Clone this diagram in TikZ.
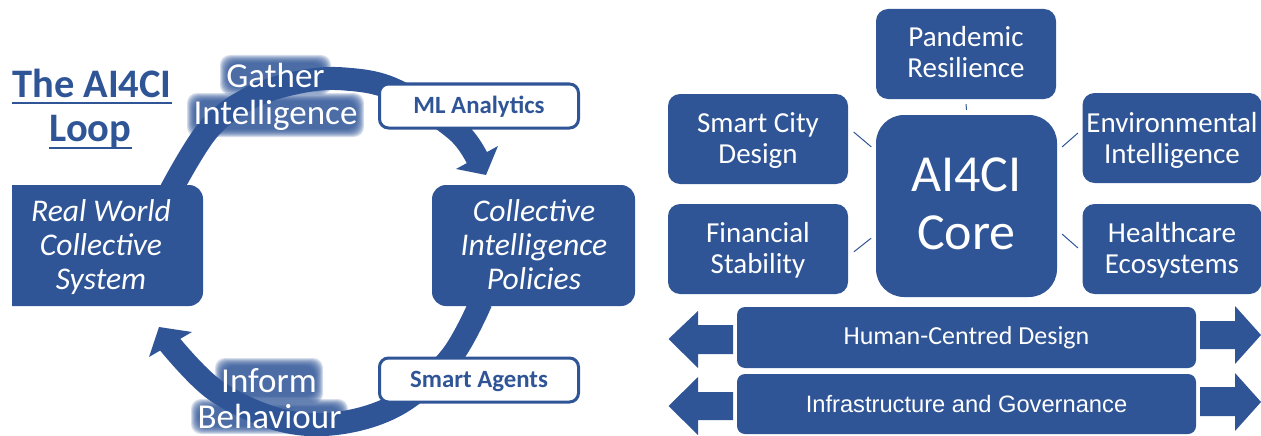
\documentclass[tikz,border=0pt]{standalone}
\usepackage{fontspec}
\setmainfont{Carlito}
\newfontfamily\arialfont{Liberation Sans}
\definecolor{aiblue}{HTML}{2F5597}
\newcommand{\fsz}[2]{\fontsize{#1}{#2}\selectfont}
\newcommand{\halo}[6]{%
  \foreach \g in {8,7,6,5,4,3,2,1,0}{%
    \fill[aiblue,opacity=.2,rounded corners=10pt] ({#1-\g},{#2-\g}) rectangle ({#3+\g},{#4+\g});}%
  \node[glowtext] (#5) at ({(#1+#3)/2},{(#2+#4)/2}) {#6};}
% a filled tile with its caption placed dy above its centre
\newcommand{\tilenode}[7]{%
  \node[tile,minimum width=#4pt,minimum height=90pt] (#1) at (#2,#3) {};
  \node[tilelabel] (#1t) at ([yshift=#5pt]#1.center) {#6\\#7};}
\tikzset{
  ringline/.style={draw=aiblue,line width=23pt,line cap=butt},
  loopbox/.style={text=white,inner sep=0pt,align=center,font=\fsz{31.6}{34}\itshape},
  tagbox/.style={draw=aiblue,line width=3pt,fill=white,rounded corners=9pt,minimum width=199pt,minimum height=44pt},
  taglabel/.style={text=aiblue,inner sep=0pt,font=\fsz{24.8}{26}\bfseries},
  glowtext/.style={text=white,inner sep=0pt,font=\fsz{35}{37}},
  titletext/.style={text=aiblue,inner sep=0pt,anchor=base,font=\fsz{40.5}{44}\bfseries},
  titleline/.style={draw=aiblue,line width=2pt},
  tile/.style={fill=aiblue,rounded corners=12pt,inner sep=0pt},
  tilelabel/.style={text=white,inner sep=0pt,align=center,font=\fsz{29}{31}},
  corebox/.style={fill=aiblue,rounded corners=28pt,inner sep=0pt},
  corelabel/.style={text=white,inner sep=0pt,align=center,font=\fsz{52}{58}},
  barbox/.style={fill=aiblue,rounded corners=8pt,text=white,inner sep=0pt,minimum width=459pt},
  link/.style={draw=aiblue,line width=1pt}
}
\begin{document}
\begin{tikzpicture}[x=1pt,y=-1pt]
\useasboundingbox (0,0) rectangle (1261,436);
% ---- left: loop ----
\coordinate (a1) at (171,190);
\coordinate (a2) at (208,130);
\coordinate (a3) at (250,98);
\coordinate (a4) at (300,82);
\coordinate (a5) at (345,79);
\coordinate (a6) at (395,90);
\coordinate (a7) at (456,130);
\coordinate (a8) at (478,160);
\draw[ringline] plot[smooth,tension=.6] coordinates {(a1) (a2) (a3) (a4) (a5) (a6) (a7) (a8)};
\fill[aiblue] (486,175) -- (498,146) -- (456,169) -- cycle;
\coordinate (b1) at (481,302);
\coordinate (b2) at (451,357);
\coordinate (b3) at (400,403);
\coordinate (b4) at (340,423);
\coordinate (b5) at (280,420);
\coordinate (b6) at (215,390);
\coordinate (b7) at (168,342);
\draw[ringline] plot[smooth,tension=.6] coordinates {(b1) (b2) (b3) (b4) (b5) (b6) (b7)};
\fill[aiblue] (159,327) -- (149,357) -- (192,332) -- cycle;
% boxes of the loop
\fill[aiblue] (12,185) [rounded corners=14pt] -- (203,185) -- (203,306) [sharp corners] -- (12,306) -- cycle;
\node[loopbox] (rw) at (101,247) {Real World\\Collective\\System};
\fill[aiblue,rounded corners=14pt] (432,185) rectangle (635,306);
\node[loopbox] (ci) at (534,245) {Collective\\Intelligence\\Policies};
\node[tagbox] (ml) at (479,106) {};
\node[taglabel] (mlt) at ([yshift=-1pt]ml.center) {ML Analytics};
\node[tagbox] (sa) at (479,380) {};
\node[taglabel] (sat) at ([yshift=-1pt]sa.center) {Smart Agents};
\halo{228}{63}{323}{87}{gather}{Gather}
\halo{195}{101}{356}{129}{intel}{Intelligence}
\halo{223}{366}{315}{396}{inform}{Inform}
\halo{199}{407}{340}{426}{behav}{Behaviour}
\node[titletext] (title1) at (92,97) {The AI4CI};
\draw[titleline] ([yshift=-6pt]title1.base west) -- ([yshift=-6pt]title1.base east);
\node[titletext] (title2) at (90.5,141) {Loop};
\draw[titleline] ([yshift=-7pt]title2.base west) -- ([yshift=-7pt]title2.base east);
% ---- right: core ----
\tilenode{pan}{966}{54}{180}{2}{Pandemic}{Resilience}
\tilenode{city}{758}{139}{180}{-2}{Smart City}{Design}
\tilenode{env}{1172}{138}{179}{-2}{Environmental}{Intelligence}
\tilenode{fin}{758}{249}{180}{-1}{Financial}{Stability}
\tilenode{hea}{1172}{249}{179}{-1}{Healthcare}{Ecosystems}
\node[corebox,minimum width=181pt,minimum height=182pt] (core) at (966.5,206) {};
\node[corelabel] (coret) at ([yshift=2pt]core.center) {AI4CI\\Core};
\draw[link,shorten <=5pt,shorten >=5pt] (pan.south) -- (core.north);
\draw[link,shorten <=7.2pt,shorten >=5.9pt] ([yshift=11.6pt]city.east) -- ([yshift=55.3pt]core.west);
\draw[link,shorten <=5.9pt,shorten >=6.5pt] ([yshift=8.8pt]env.west) -- ([yshift=54.8pt]core.east);
\draw[link,shorten <=7.2pt,shorten >=5.9pt] ([yshift=-7.3pt]fin.east) -- ([yshift=-28.5pt]core.west);
\draw[link,shorten <=5.9pt,shorten >=6.5pt] ([yshift=-2.8pt]hea.west) -- ([yshift=-23.8pt]core.east);
% ---- bars ----
\node[barbox,minimum height=61pt,font=\fsz{26}{28}] (hcd) at (966.5,337.5) {Human-Centred Design};
\node[barbox,minimum height=60pt,font=\arialfont\fsz{23.7}{25}] (ing) at (966.5,404) {Infrastructure and Governance};
\fill[aiblue] (668.5,339) -- (698,311) -- (698,325) -- (733,325) -- (733,354) -- (698,354) -- (698,368) -- cycle;
\fill[aiblue] (1261,335) -- (1235,306) -- (1235,321) -- (1200,321) -- (1200,349) -- (1235,349) -- (1235,364) -- cycle;
\fill[aiblue] (668.5,406) -- (698,377) -- (698,392) -- (733,392) -- (733,420) -- (698,420) -- (698,435) -- cycle;
\fill[aiblue] (1261,402) -- (1235,373) -- (1235,387) -- (1200,387) -- (1200,416) -- (1235,416) -- (1235,431) -- cycle;
\end{tikzpicture}
\end{document}
